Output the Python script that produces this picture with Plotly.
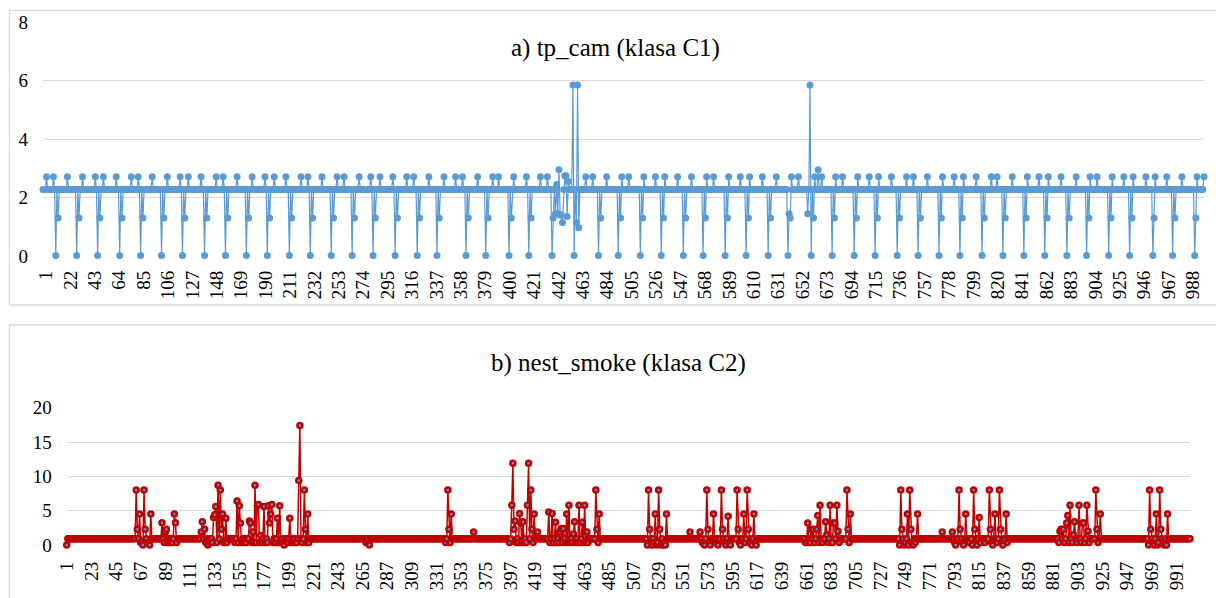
import plotly.graph_objects as go

# ---------------- a) tp_cam (klasa C1) ----------------
TOP_N = 1000
TOP_BASE = 2.28
TOP_PEAK = 2.71
TOP_DIP = 1.30
TOP_ZERO = 0.02
TOP_ZERO_IDX = [12, 30, 48, 67, 85, 103, 121, 140, 158, 176, 194, 213, 231, 249, 267, 285, 304, 323,
                340, 365, 382, 402, 419, 439, 479, 496, 515, 533, 552, 569, 588, 606, 625, 642,
                680, 699, 717, 736, 754, 772, 790, 809, 827, 845, 863, 882, 899, 918, 936, 956, 973, 992]
TOP_DIP_IDX = [14, 32, 50, 69, 87, 105, 123, 142, 160, 178, 196, 215, 233, 251, 269, 287, 306, 325,
               342, 367, 384, 404, 421, 481, 498, 517, 535, 554, 571, 590, 608, 627,
               682, 701, 719, 738, 756, 774, 792, 811, 829, 847, 865, 884, 901, 920, 938, 957, 975, 993]
TOP_PEAK_IDX = [4, 10, 22, 35, 46, 53, 64, 77, 83, 95, 108, 119, 126, 137, 150, 156, 168, 181, 192, 200,
                210, 223, 229, 241, 254, 260, 273, 283, 291, 302, 314, 320, 333, 346, 356, 362, 375, 388,
                393, 406, 417, 429, 435, 468, 474, 486, 499, 505, 518, 528, 536, 547, 559, 572, 578, 591,
                601, 609, 620, 632, 645, 651, 665, 671, 683, 689, 702, 712, 720, 731, 744, 750, 762, 775,
                785, 793, 804, 817, 822, 835, 848, 858, 866, 877, 890, 902, 908, 921, 931, 939, 950, 958,
                968, 981, 994, 1000]
TOP_SPECIAL = {440: 1.30, 442: 1.45, 443: 2.45, 444: 1.45, 445: 2.95, 446: 1.40, 447: 1.40, 448: 1.15,
               450: 2.75, 451: 2.75, 452: 1.35, 453: 2.55, 457: 5.85, 458: 0.02, 460: 1.15, 461: 5.85,
               462: 0.97, 643: 1.45, 644: 1.30, 659: 1.45, 661: 5.85, 662: 0.02, 664: 1.30, 668: 2.95}
TOP_TICKS = [1, 22, 43, 64, 85, 106, 127, 148, 169, 190, 211, 232, 253, 274, 295, 316, 337, 358, 379,
             400, 421, 442, 463, 484, 505, 526, 547, 568, 589, 610, 631, 652, 673, 694, 715, 736, 757,
             778, 799, 820, 841, 862, 883, 904, 925, 946, 967, 988]
TOP_YTICKS = [0, 2, 4, 6, 8]

# ---------------- b) nest_smoke (klasa C2) ----------------
BOT_N = 1003
BOT_BASE = 0.92
BOT_EVENTS = {
    1: 0.0,
    63: 8.0, 64: 2.3, 66: 4.5, 67: 0.35, 68: 0.35, 69: 0.0, 70: 8.0, 71: 2.3, 73: 0.35, 74: 0.35, 75: 0.0, 76: 4.5,
    86: 3.25, 88: 0.35, 89: 1.9, 90: 2.3, 91: 0.35, 93: 0.35, 95: 0.35, 97: 4.5, 98: 3.25, 99: 0.35,
    121: 1.9, 122: 3.4, 124: 2.3, 125: 0.35, 127: 0.0, 129: 0.35, 131: 0.35, 132: 4.0, 133: 4.4, 134: 5.6,
    135: 0.35, 136: 8.7, 138: 8.0, 139: 2.3, 140: 4.5, 141: 0.35, 142: 0.35, 143: 3.9, 144: 0.35,
    151: 0.35, 153: 6.4, 154: 0.35, 155: 5.7, 156: 3.2, 157: 0.35, 159: 0.35, 161: 0.35, 164: 3.5, 165: 3.2,
    166: 0.35, 167: 1.9, 168: 0.35, 169: 8.7, 170: 0.35, 171: 5.7, 172: 5.9, 173: 0.35, 174: 1.4, 175: 0.35,
    177: 5.6, 178: 0.35, 180: 0.35, 181: 5.7, 182: 3.2, 183: 4.5, 184: 5.9, 185: 0.35, 187: 0.35, 189: 3.9,
    190: 0.35, 191: 5.7, 192: 0.35, 194: 0.35, 195: 0.0, 198: 0.35, 200: 3.9, 201: 0.35, 203: 0.35,
    205: 0.35, 206: 0.35, 208: 9.4, 209: 17.4, 211: 0.35, 213: 8.0, 214: 2.3, 215: 0.35, 216: 4.5, 217: 0.35,
    268: 0.35, 270: 0.35, 271: 0.0,
    339: 0.35, 341: 8.0, 342: 2.3, 343: 0.35, 344: 4.5,
    364: 1.9,
    396: 0.35, 398: 5.8, 399: 11.9, 400: 2.3, 401: 3.5, 402: 0.35, 404: 0.35, 405: 4.6, 406: 3.2, 407: 0.35,
    408: 3.4, 409: 0.35, 411: 0.35, 412: 5.8, 413: 11.9, 415: 8.0, 416: 2.3, 417: 0.35, 418: 4.5, 421: 1.9,
    431: 4.8, 432: 0.35, 434: 4.6, 435: 0.35, 437: 3.3, 438: 0.35, 440: 0.35, 441: 1.9, 442: 2.4, 443: 0.35,
    444: 2.4, 446: 0.35, 447: 4.5, 448: 0.35, 449: 5.8, 450: 0.35, 452: 0.35, 453: 1.6, 454: 3.4, 455: 0.35,
    457: 0.35, 458: 5.8, 459: 0.35, 461: 3.3, 462: 0.35, 463: 5.8, 464: 0.35, 465: 1.9, 466: 0.35,
    473: 8.0, 474: 2.3, 475: 0.35, 476: 4.5,
    519: 0.0, 520: 8.0, 521: 2.3, 523: 0.0, 525: 0.35, 526: 4.5, 527: 0.0, 528: 0.35, 529: 8.0, 530: 2.3,
    531: 0.0, 533: 0.0, 534: 0.35, 535: 0.0, 536: 4.5,
    557: 1.9,
    566: 1.9, 568: 0.35, 569: 0.35, 570: 0.0, 572: 8.0, 573: 2.3, 574: 0.35, 575: 0.0, 578: 4.5, 580: 0.35,
    582: 0.0, 585: 8.0, 586: 2.3, 588: 0.35, 589: 0.0, 591: 4.2, 592: 0.35, 593: 0.0, 599: 8.0, 600: 2.3,
    601: 0.35, 602: 0.0, 605: 4.5, 606: 0.35, 608: 8.0, 609: 2.3, 610: 0.35, 612: 0.0, 614: 4.5, 615: 0.35, 616: 0.0,
    660: 0.35, 661: 0.35, 662: 3.2, 664: 0.35, 665: 2.3, 667: 2.3, 668: 0.35, 670: 2.3, 671: 4.3, 672: 0.35,
    673: 5.8, 675: 0.35, 678: 3.4, 679: 1.5, 680: 0.35, 682: 5.8, 683: 0.35, 684: 0.35, 685: 3.2, 686: 3.2,
    688: 5.8, 689: 2.0, 690: 0.35, 697: 8.0, 698: 2.3, 699: 0.35, 700: 4.5,
    744: 0.0, 745: 8.0, 746: 2.3, 748: 0.0, 749: 0.35, 751: 4.5, 752: 0.0, 753: 8.0, 754: 2.3, 755: 0.35,
    756: 0.0, 758: 0.35, 760: 4.5,
    782: 1.9,
    791: 1.9, 793: 0.35, 794: 0.0, 797: 8.0, 798: 2.3, 800: 0.35, 801: 0.0, 803: 4.5, 806: 0.35, 809: 0.0,
    810: 8.0, 811: 2.3, 813: 0.0, 815: 4.0, 816: 0.35, 820: 0.35, 824: 8.0, 825: 2.3, 826: 0.35, 827: 0.0,
    829: 4.5, 831: 0.35, 833: 8.0, 834: 2.3, 835: 0.35, 836: 0.0, 839: 4.5, 840: 0.35,
    886: 0.35, 887: 2.0, 888: 2.3, 890: 2.3, 891: 0.35, 893: 3.2, 894: 4.3, 895: 0.35, 896: 5.8, 898: 0.35,
    899: 1.5, 900: 3.4, 902: 0.35, 904: 5.8, 906: 0.35, 907: 3.2, 908: 3.2, 909: 0.35, 911: 5.8, 912: 2.0,
    913: 0.35, 919: 8.0, 920: 2.3, 921: 0.35, 923: 4.5,
    966: 0.0, 967: 8.0, 968: 2.3, 970: 0.35, 971: 0.0, 973: 4.5, 974: 0.0, 975: 0.35, 976: 8.0, 977: 2.3,
    979: 0.35, 980: 0.0, 982: 0.0, 983: 4.5,
}
BOT_TICKS = [1, 23, 45, 67, 89, 111, 133, 155, 177, 199, 221, 243, 265, 287, 309, 331, 353, 375, 397, 419,
             441, 463, 485, 507, 529, 551, 573, 595, 617, 639, 661, 683, 705, 727, 749, 771, 793, 815, 837,
             859, 881, 903, 925, 947, 969, 991]
BOT_YTICKS = [0, 5, 10, 15, 20]

TITLE_A = "a) tp_cam (klasa C1)"
TITLE_B = "b) nest_smoke (klasa C2)"

# ---- assemble series ----
top_x = list(range(1, TOP_N + 1))
top_y = [TOP_BASE] * TOP_N
for i in TOP_PEAK_IDX:
    top_y[i - 1] = TOP_PEAK
for i in TOP_ZERO_IDX:
    top_y[i - 1] = TOP_ZERO
for i in TOP_DIP_IDX:
    top_y[i - 1] = TOP_DIP
for i, v in TOP_SPECIAL.items():
    top_y[i - 1] = v

bot_x = list(range(1, BOT_N + 1))
bot_y = [BOT_BASE] * BOT_N
for i, v in BOT_EVENTS.items():
    bot_y[i - 1] = v

W, H = 1216, 598
FONT = "Liberation Serif, Times New Roman, serif"
GRID = "#d9d9d9"

def px(x):
    return x / W

def py(y):
    return 1 - y / H

fig = go.Figure()
fig.add_trace(go.Scatter(
    x=top_x, y=top_y, mode="lines+markers", xaxis="x", yaxis="y",
    line=dict(color="#5B9BD5", width=1.2),
    marker=dict(size=7, color="#5B9BD5"),
    cliponaxis=False, hoverinfo="x+y",
))
fig.add_trace(go.Scatter(
    x=bot_x, y=bot_y, mode="lines+markers", xaxis="x2", yaxis="y2",
    line=dict(color="#C00000", width=1.5),
    marker=dict(size=5, color="#5B9BD5", line=dict(color="#C00000", width=2.5)),
    cliponaxis=False, hoverinfo="x+y",
))

tickfont = dict(family=FONT, size=19, color="#000000")
common = dict(automargin=False, zeroline=False, showline=False, ticks="", tickfont=tickfont,
              tickmode="array")

fig.update_layout(
    template="none",
    width=W, height=H,
    margin=dict(l=0, r=0, t=0, b=0, pad=0, autoexpand=False),
    paper_bgcolor="white", plot_bgcolor="white",
    font=dict(family=FONT, color="#000000"),
    showlegend=False,
    xaxis=dict(domain=[px(43), px(1204)], range=[1, TOP_N], anchor="y",
               tickvals=TOP_TICKS, ticktext=[str(t) for t in TOP_TICKS],
               tickangle=-90, showgrid=False, ticklabelstandoff=10, ticklabelshift=3, **common),
    yaxis=dict(domain=[py(256), py(22.3)], range=[0, 8], anchor="x",
               tickvals=TOP_YTICKS, showgrid=True, gridcolor=GRID, gridwidth=1.2,
               ticklabelstandoff=14, **common),
    xaxis2=dict(domain=[px(66.7), px(1190)], range=[1, BOT_N], anchor="y2",
                tickvals=BOT_TICKS, ticktext=[str(t) for t in BOT_TICKS],
                tickangle=-90, showgrid=False, ticklabelstandoff=12, **common),
    yaxis2=dict(domain=[py(545), py(407.7)], range=[0, 20], anchor="x2",
                tickvals=BOT_YTICKS, showgrid=True, gridcolor=GRID, gridwidth=1.2,
                ticklabelstandoff=14, **common),
    annotations=[
        dict(text=TITLE_A, x=px(615), y=py(48), xref="paper", yref="paper",
             xanchor="center", yanchor="middle", showarrow=False,
             font=dict(family=FONT, size=25, color="#000000")),
        dict(text=TITLE_B, x=px(618), y=py(363), xref="paper", yref="paper",
             xanchor="center", yanchor="middle", showarrow=False,
             font=dict(family=FONT, size=25, color="#000000")),
    ],
    shapes=[
        dict(type="rect", xref="paper", yref="paper", x0=px(9.5), x1=px(1230), y0=py(305), y1=py(10.5),
             line=dict(color=GRID, width=1.3), layer="below"),
        dict(type="rect", xref="paper", yref="paper", x0=px(9.5), x1=px(1230), y0=py(620), y1=py(325),
             line=dict(color=GRID, width=1.3), layer="below"),
    ],
)

fig.write_html(
    "out.html",
    config={"displayModeBar": False},
    post_script="document.body.style.margin='0';document.body.style.overflow='hidden';",
)
